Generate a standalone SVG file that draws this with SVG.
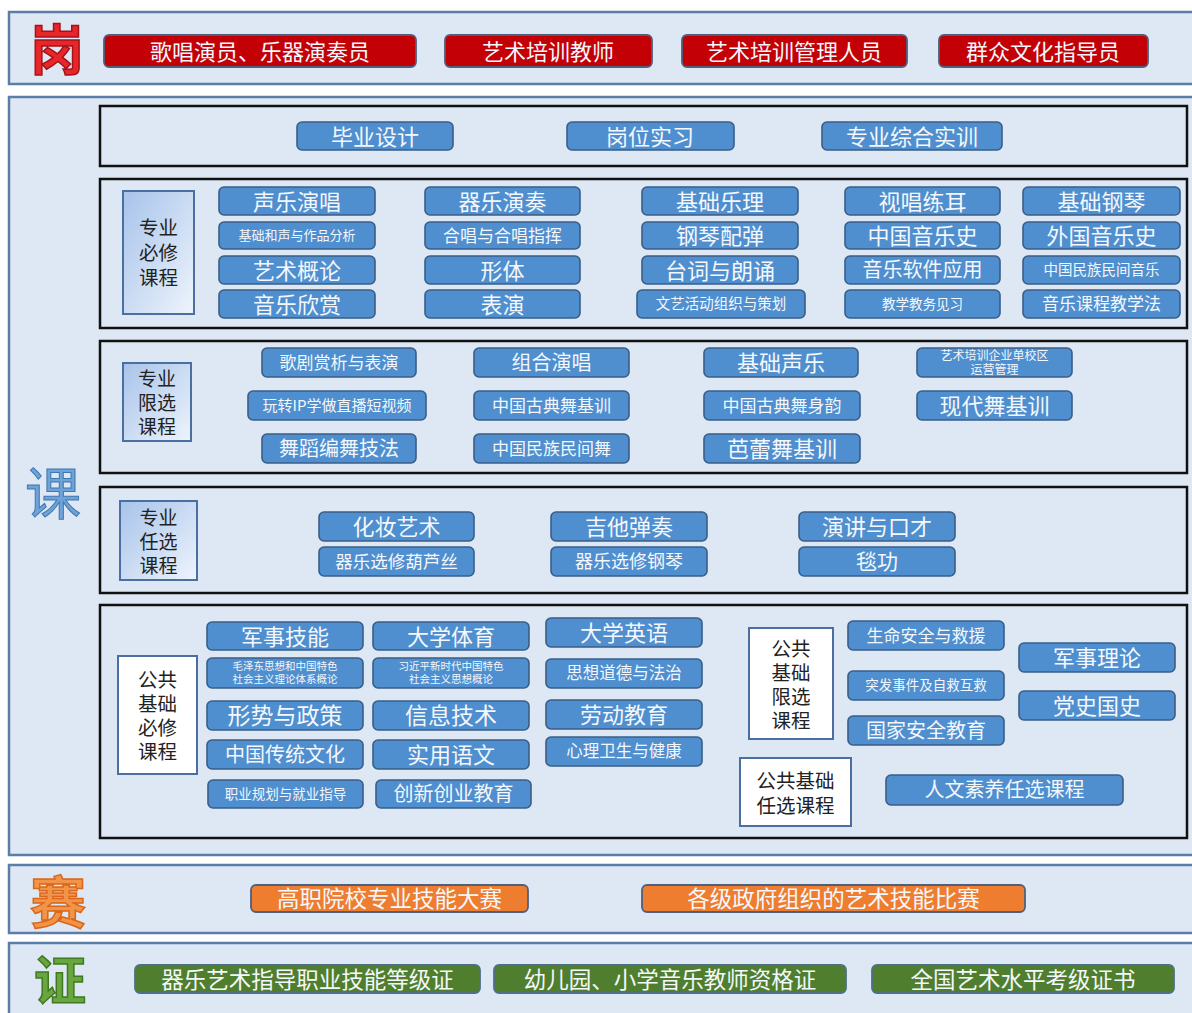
<svg xmlns="http://www.w3.org/2000/svg" width="1192" height="1013" viewBox="0 0 1192 1013">
<defs>
<linearGradient id="lg" x1="0" y1="0" x2="1" y2="1">
<stop offset="0" stop-color="#a7c3ea"/>
<stop offset="1" stop-color="#eef4fc"/>
</linearGradient>
<style>
.sec{fill:#dde8f4;stroke:#5b7ea8;stroke-width:2.5}
.inner{fill:none;stroke:#111;stroke-width:2.5}
.b{fill:#4f8fcf;stroke:#3a5d86;stroke-width:1.6}
.r{fill:#c20006;stroke:#4f5f7c;stroke-width:1.8}
.o{fill:#ee7d30;stroke:#4f5f7c;stroke-width:1.8}
.g{fill:#4f7f2e;stroke:#4f6f88;stroke-width:1.8}
.lab{fill:url(#lg);stroke:#4a6fa0;stroke-width:2}
.labw{fill:#fff;stroke:#4a6fa0;stroke-width:2}
text{font-family:"Noto Sans CJK SC","Noto Sans",sans-serif;text-anchor:middle;dominant-baseline:central}
.t{fill:#f4f7fb;transform:translateY(-1.5px)}
.d{fill:#222;transform:translateY(-1px)}
</style>
</defs>
<rect width="1192" height="1013" fill="#fff"/>
<g id="sections">
<rect class="sec" x="9" y="12" width="1192" height="72"/>
<rect class="sec" x="9" y="97" width="1192" height="758"/>
<rect class="sec" x="9" y="865" width="1192" height="68"/>
<rect class="sec" x="9" y="943" width="1192" height="80"/>
<text x="57" y="46" font-size="54" font-weight="bold" fill="#e8262a" stroke="#a5121a" stroke-width="1.5">岗</text>
<text x="53" y="489" font-size="56" fill="#6fa2d6" stroke="#3f77b3" stroke-width="1">课</text>
<text x="58" y="898" font-size="56" font-weight="bold" fill="#f29448" stroke="#d9661a" stroke-width="1.5">赛</text>
<text x="60" y="977" font-size="52" font-weight="bold" fill="#6aa640" stroke="#3f7a20" stroke-width="1.5">证</text>
</g>
<g id="frames">
<rect class="inner" x="100" y="106" width="1087" height="60"/>
<rect class="inner" x="100" y="179" width="1087" height="149"/>
<rect class="inner" x="100" y="341" width="1087" height="132"/>
<rect class="inner" x="100" y="487" width="1087" height="106"/>
<rect class="inner" x="100" y="605" width="1087" height="233"/>
</g>
<g id="connectors"/>
<g id="jobs">
<g id="j1"><rect class="r" x="104" y="35" width="312" height="32" rx="5"/><text class="t" x="260" y="51" font-size="22">歌唱演员、乐器演奏员</text></g>
<g id="j2"><rect class="r" x="445" y="35" width="207" height="32" rx="5"/><text class="t" x="548" y="51" font-size="22">艺术培训教师</text></g>
<g id="j3"><rect class="r" x="682" y="35" width="225" height="32" rx="5"/><text class="t" x="794" y="51" font-size="22">艺术培训管理人员</text></g>
<g id="j4"><rect class="r" x="939" y="35" width="209" height="32" rx="5"/><text class="t" x="1043" y="51" font-size="22">群众文化指导员</text></g>
</g>
<g id="practice">
<g id="p1"><rect class="b" x="297" y="122" width="156" height="28" rx="5"/><text class="t" x="375" y="136" font-size="22">毕业设计</text></g>
<g id="p2"><rect class="b" x="567" y="122" width="167" height="28" rx="5"/><text class="t" x="650" y="136" font-size="22">岗位实习</text></g>
<g id="p3"><rect class="b" x="822" y="122" width="180" height="28" rx="5"/><text class="t" x="912" y="136" font-size="22">专业综合实训</text></g>
</g>
<g id="required">
<g id="rl"><rect class="lab" x="123" y="191" width="71" height="123"/><text class="d" x="158.5" y="252" font-size="19.5"><tspan x="158.5" dy="-25">专业</tspan><tspan x="158.5" dy="25">必修</tspan><tspan x="158.5" dy="25">课程</tspan></text></g>
<g id="r11"><rect class="b" x="219" y="187" width="156" height="28" rx="5"/><text class="t" x="297" y="201" font-size="22">声乐演唱</text></g>
<g id="r12"><rect class="b" x="219" y="222" width="156" height="27" rx="5"/><text class="t" x="297" y="235.5" font-size="13">基础和声与作品分析</text></g>
<g id="r13"><rect class="b" x="219" y="256" width="156" height="28" rx="5"/><text class="t" x="297" y="270" font-size="22">艺术概论</text></g>
<g id="r14"><rect class="b" x="219" y="290" width="156" height="28" rx="5"/><text class="t" x="297" y="304" font-size="22">音乐欣赏</text></g>
<g id="r21"><rect class="b" x="425" y="187" width="155" height="28" rx="5"/><text class="t" x="502.5" y="201" font-size="22">器乐演奏</text></g>
<g id="r22"><rect class="b" x="425" y="222" width="155" height="27" rx="5"/><text class="t" x="502.5" y="235.5" font-size="17">合唱与合唱指挥</text></g>
<g id="r23"><rect class="b" x="425" y="256" width="155" height="28" rx="5"/><text class="t" x="502.5" y="270" font-size="22">形体</text></g>
<g id="r24"><rect class="b" x="425" y="290" width="155" height="28" rx="5"/><text class="t" x="502.5" y="304" font-size="22">表演</text></g>
<g id="r31"><rect class="b" x="642" y="187" width="156" height="28" rx="5"/><text class="t" x="720" y="201" font-size="22">基础乐理</text></g>
<g id="r32"><rect class="b" x="642" y="222" width="156" height="27" rx="5"/><text class="t" x="720" y="235.5" font-size="22">钢琴配弹</text></g>
<g id="r33"><rect class="b" x="642" y="256" width="156" height="28" rx="5"/><text class="t" x="720" y="270" font-size="22">台词与朗诵</text></g>
<g id="r34"><rect class="b" x="637" y="290" width="168" height="28" rx="5"/><text class="t" x="721" y="304" font-size="14.5">文艺活动组织与策划</text></g>
<g id="r41"><rect class="b" x="845" y="187" width="155" height="28" rx="5"/><text class="t" x="922.5" y="201" font-size="22">视唱练耳</text></g>
<g id="r42"><rect class="b" x="845" y="222" width="155" height="27" rx="5"/><text class="t" x="922.5" y="235.5" font-size="22">中国音乐史</text></g>
<g id="r43"><rect class="b" x="845" y="256" width="155" height="28" rx="5"/><text class="t" x="922.5" y="270" font-size="20">音乐软件应用</text></g>
<g id="r44"><rect class="b" x="845" y="290" width="155" height="28" rx="5"/><text class="t" x="922.5" y="304" font-size="13.5">教学教务见习</text></g>
<g id="r51"><rect class="b" x="1023" y="187" width="157" height="28" rx="5"/><text class="t" x="1101.5" y="201" font-size="22">基础钢琴</text></g>
<g id="r52"><rect class="b" x="1023" y="222" width="157" height="27" rx="5"/><text class="t" x="1101.5" y="235.5" font-size="22">外国音乐史</text></g>
<g id="r53"><rect class="b" x="1023" y="256" width="157" height="28" rx="5"/><text class="t" x="1101.5" y="270" font-size="14.5">中国民族民间音乐</text></g>
<g id="r54"><rect class="b" x="1023" y="290" width="157" height="28" rx="5"/><text class="t" x="1101.5" y="304" font-size="17">音乐课程教学法</text></g>
</g>
<g id="limited">
<g id="ll"><rect class="lab" x="123" y="363" width="68" height="78"/><text class="d" x="157" y="402" font-size="19"><tspan x="157" dy="-24">专业</tspan><tspan x="157" dy="24">限选</tspan><tspan x="157" dy="24">课程</tspan></text></g>
<g id="l11"><rect class="b" x="262" y="348" width="154" height="29" rx="5"/><text class="t" x="339" y="362.5" font-size="17">歌剧赏析与表演</text></g>
<g id="l12"><rect class="b" x="474" y="348" width="155" height="29" rx="5"/><text class="t" x="551.5" y="362.5" font-size="20">组合演唱</text></g>
<g id="l13"><rect class="b" x="704" y="348" width="154" height="29" rx="5"/><text class="t" x="781" y="362.5" font-size="22">基础声乐</text></g>
<g id="l14"><rect class="b" x="917" y="348" width="155" height="29" rx="5"/><text class="t" x="994.5" y="362.5" font-size="12"><tspan x="994.5" dy="-7">艺术培训企业单校区</tspan><tspan x="994.5" dy="14">运营管理</tspan></text></g>
<g id="l21"><rect class="b" x="248" y="391" width="178" height="29" rx="5"/><text class="t" x="337" y="405.5" font-size="15">玩转IP学做直播短视频</text></g>
<g id="l22"><rect class="b" x="474" y="391" width="155" height="29" rx="5"/><text class="t" x="551.5" y="405.5" font-size="17">中国古典舞基训</text></g>
<g id="l23"><rect class="b" x="704" y="391" width="156" height="29" rx="5"/><text class="t" x="782" y="405.5" font-size="17">中国古典舞身韵</text></g>
<g id="l24"><rect class="b" x="917" y="391" width="155" height="29" rx="5"/><text class="t" x="994.5" y="405.5" font-size="22">现代舞基训</text></g>
<g id="l31"><rect class="b" x="262" y="434" width="154" height="29" rx="5"/><text class="t" x="339" y="448.5" font-size="20">舞蹈编舞技法</text></g>
<g id="l32"><rect class="b" x="474" y="434" width="155" height="29" rx="5"/><text class="t" x="551.5" y="448.5" font-size="17">中国民族民间舞</text></g>
<g id="l33"><rect class="b" x="704" y="434" width="156" height="29" rx="5"/><text class="t" x="782" y="448.5" font-size="22">芭蕾舞基训</text></g>
</g>
<g id="elective">
<g id="el"><rect class="lab" x="120" y="501" width="77" height="79"/><text class="d" x="158.5" y="540.5" font-size="19"><tspan x="158.5" dy="-24">专业</tspan><tspan x="158.5" dy="24">任选</tspan><tspan x="158.5" dy="24">课程</tspan></text></g>
<g id="e11"><rect class="b" x="319" y="512" width="155" height="29" rx="5"/><text class="t" x="396.5" y="526.5" font-size="22">化妆艺术</text></g>
<g id="e12"><rect class="b" x="319" y="547" width="155" height="29" rx="5"/><text class="t" x="396.5" y="561.5" font-size="17.5">器乐选修葫芦丝</text></g>
<g id="e21"><rect class="b" x="551" y="512" width="156" height="29" rx="5"/><text class="t" x="629" y="526.5" font-size="22">吉他弹奏</text></g>
<g id="e22"><rect class="b" x="551" y="547" width="156" height="29" rx="5"/><text class="t" x="629" y="561.5" font-size="18">器乐选修钢琴</text></g>
<g id="e31"><rect class="b" x="799" y="512" width="156" height="29" rx="5"/><text class="t" x="877" y="526.5" font-size="22">演讲与口才</text></g>
<g id="e32"><rect class="b" x="799" y="547" width="156" height="29" rx="5"/><text class="t" x="877" y="561.5" font-size="21">毯功</text></g>
</g>
<g id="public">
<g id="pl1"><rect class="labw" x="118" y="656" width="79" height="118"/><text class="d" x="157.5" y="715" font-size="19.5"><tspan x="157.5" dy="-36">公共</tspan><tspan x="157.5" dy="24">基础</tspan><tspan x="157.5" dy="24">必修</tspan><tspan x="157.5" dy="24">课程</tspan></text></g>
<g id="q11"><rect class="b" x="207" y="622" width="156" height="28" rx="5"/><text class="t" x="285" y="636" font-size="22">军事技能</text></g>
<g id="q12"><rect class="b" x="207" y="658" width="156" height="30" rx="5"/><text class="t" x="285" y="673" font-size="10.5"><tspan x="285" dy="-6.5">毛泽东思想和中国特色</tspan><tspan x="285" dy="13">社会主义理论体系概论</tspan></text></g>
<g id="q13"><rect class="b" x="207" y="701" width="156" height="29" rx="5"/><text class="t" x="285" y="715.5" font-size="23">形势与政策</text></g>
<g id="q14"><rect class="b" x="207" y="740" width="156" height="29" rx="5"/><text class="t" x="285" y="754.5" font-size="20">中国传统文化</text></g>
<g id="q15"><rect class="b" x="208" y="780" width="155" height="28" rx="5"/><text class="t" x="285.5" y="794" font-size="13.5">职业规划与就业指导</text></g>
<g id="q21"><rect class="b" x="373" y="622" width="156" height="28" rx="5"/><text class="t" x="451" y="636" font-size="22">大学体育</text></g>
<g id="q22"><rect class="b" x="373" y="658" width="156" height="30" rx="5"/><text class="t" x="451" y="673" font-size="10.5"><tspan x="451" dy="-6.5">习近平新时代中国特色</tspan><tspan x="451" dy="13">社会主义思想概论</tspan></text></g>
<g id="q23"><rect class="b" x="373" y="701" width="156" height="29" rx="5"/><text class="t" x="451" y="715.5" font-size="23">信息技术</text></g>
<g id="q24"><rect class="b" x="373" y="740" width="156" height="29" rx="5"/><text class="t" x="451" y="754.5" font-size="22">实用语文</text></g>
<g id="q25"><rect class="b" x="376" y="780" width="155" height="28" rx="5"/><text class="t" x="453.5" y="794" font-size="20">创新创业教育</text></g>
<g id="q31"><rect class="b" x="546" y="618" width="156" height="29" rx="5"/><text class="t" x="624" y="632.5" font-size="22">大学英语</text></g>
<g id="q32"><rect class="b" x="546" y="659" width="156" height="29" rx="5"/><text class="t" x="624" y="673.5" font-size="16.5">思想道德与法治</text></g>
<g id="q33"><rect class="b" x="546" y="700" width="156" height="29" rx="5"/><text class="t" x="624" y="714.5" font-size="22">劳动教育</text></g>
<g id="q34"><rect class="b" x="546" y="737" width="156" height="29" rx="5"/><text class="t" x="624" y="751.5" font-size="16.5">心理卫生与健康</text></g>
<g id="pl2"><rect class="labw" x="749" y="628" width="84" height="111"/><text class="d" x="791" y="683.5" font-size="19.5"><tspan x="791" dy="-36">公共</tspan><tspan x="791" dy="24">基础</tspan><tspan x="791" dy="24">限选</tspan><tspan x="791" dy="24">课程</tspan></text></g>
<g id="q41"><rect class="b" x="848" y="621" width="156" height="29" rx="5"/><text class="t" x="926" y="635.5" font-size="17">生命安全与救援</text></g>
<g id="q42"><rect class="b" x="848" y="671" width="156" height="29" rx="5"/><text class="t" x="926" y="685.5" font-size="13.5">突发事件及自救互救</text></g>
<g id="q43"><rect class="b" x="848" y="716" width="156" height="29" rx="5"/><text class="t" x="926" y="730.5" font-size="20">国家安全教育</text></g>
<g id="q51"><rect class="b" x="1019" y="643" width="156" height="29" rx="5"/><text class="t" x="1097" y="657.5" font-size="22">军事理论</text></g>
<g id="q52"><rect class="b" x="1019" y="691" width="156" height="29" rx="5"/><text class="t" x="1097" y="705.5" font-size="22">党史国史</text></g>
<g id="pl3"><rect class="labw" x="740" y="758" width="111" height="68"/><text class="d" x="795.5" y="792" font-size="19.5"><tspan x="795.5" dy="-12">公共基础</tspan><tspan x="795.5" dy="25">任选课程</tspan></text></g>
<g id="q61"><rect class="b" x="886" y="775" width="237" height="30" rx="5"/><text class="t" x="1004.5" y="790" font-size="20">人文素养任选课程</text></g>
</g>
<g id="compete">
<g id="c1"><rect class="o" x="251" y="885" width="277" height="27" rx="5"/><text class="t" x="389.5" y="898.5" font-size="22.5">高职院校专业技能大赛</text></g>
<g id="c2"><rect class="o" x="642" y="885" width="383" height="27" rx="5"/><text class="t" x="833.5" y="898.5" font-size="22.5">各级政府组织的艺术技能比赛</text></g>
</g>
<g id="certs">
<g id="z1"><rect class="g" x="135" y="965" width="345" height="28" rx="5"/><text class="t" x="307.5" y="979" font-size="22.5">器乐艺术指导职业技能等级证</text></g>
<g id="z2"><rect class="g" x="494" y="965" width="352" height="28" rx="5"/><text class="t" x="670" y="979" font-size="22.5">幼儿园、小学音乐教师资格证</text></g>
<g id="z3"><rect class="g" x="872" y="965" width="302" height="28" rx="5"/><text class="t" x="1023" y="979" font-size="22.5">全国艺术水平考级证书</text></g>
</g>
</svg>
